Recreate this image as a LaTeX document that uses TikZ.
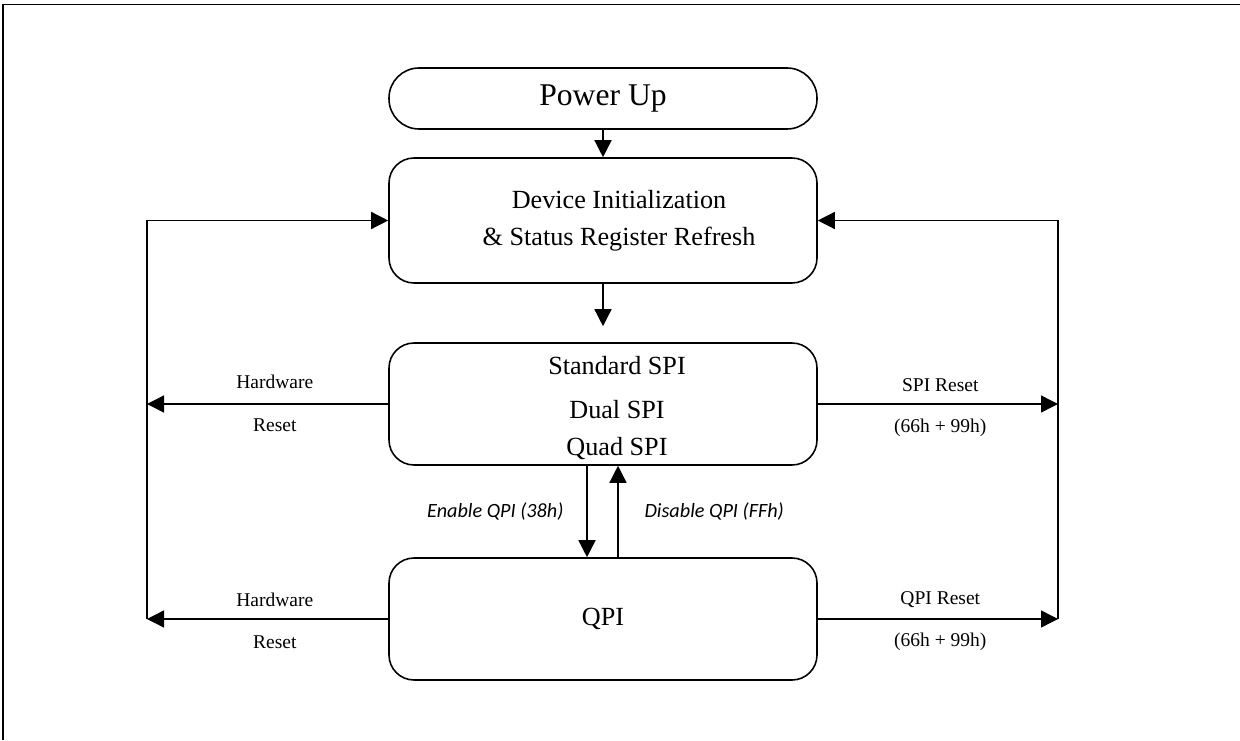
\documentclass[tikz,border=0pt]{standalone}
\usepackage{fontspec}
\setmainfont{Liberation Serif}
\newfontfamily\calfont{Carlito}
\usetikzlibrary{arrows.meta}

\begin{document}
\begin{tikzpicture}[
  box/.style={draw=linecolor,line width=0.9pt,rounded corners=0.5cm,minimum width=8.56cm,minimum height=2.44cm,inner sep=0pt},
  flow/.style={draw=linecolor,line width=0.8pt,-{Triangle[length=0.34cm,width=0.34cm]}},
  mainfont/.style={font=\fontsize{14.9}{21}\selectfont},
  lblfont/.style={font=\fontsize{11.1}{13}\selectfont},
  cmdfont/.style={font=\calfont\itshape\fontsize{11.5}{13}\selectfont}
]
\definecolor{linecolor}{RGB}{0,0,0}
\definecolor{framecolor}{RGB}{0,0,0}
\useasboundingbox (0,0) rectangle (24.8,14.8);
% page frame (top and left only)
\draw[framecolor,line width=1.1pt] (0.06,0) -- (0.06,14.71) -- (24.8,14.71);
% states
\node[box,rounded corners=0.6cm,minimum height=1.22cm,font=\fontsize{18}{20}\selectfont] (pwr) at (12.06,12.83) {Power Up};
\node[box,minimum height=2.5cm] (init) at (12.06,10.39) {};
\node[mainfont,align=center] (inittxt) at ([xshift=0.32cm]init.center) {Device Initialization\\ \& Status Register Refresh};
\node[box] (spi) at (12.06,6.72) {};
\node[mainfont,align=center] (spitxt) at ([xshift=0.28cm,yshift=-0.08cm]spi.center) {Standard SPI\\[4.5pt] Dual SPI\\ Quad SPI};
\node[box,mainfont] (qpi) at (12.06,2.42) {QPI};
% side rails
\coordinate (lft) at (2.94,0);
\coordinate (rgt) at (21.16,0);
\coordinate (spiin) at ([yshift=0.32cm]spi.north);
% transitions
\draw[flow] (pwr) -- (init);
\draw[flow] (init) -- (spiin);
\draw[flow] ([xshift=-0.32cm]spi.south) -- ([xshift=-0.32cm]qpi.north)
  node[cmdfont,midway,left=0.34cm] {Enable QPI (38h)};
\draw[flow] ([xshift=0.3cm]qpi.north) -- ([xshift=0.3cm]spi.south)
  node[cmdfont,midway,right=0.4cm] {Disable QPI (FFh)};
% hardware reset (left)
\draw[flow] (spi.west) -- (spi.west -| lft)
  node[lblfont,pos=0.47,yshift=0.44cm] {Hardware}
  node[lblfont,pos=0.47,yshift=-0.42cm] {Reset};
\draw[flow] (qpi.west) -- (qpi.west -| lft)
  node[lblfont,pos=0.47,yshift=0.38cm] {Hardware}
  node[lblfont,pos=0.47,yshift=-0.46cm] {Reset};
\draw[flow] (qpi.west -| lft) -- (init.west -| lft) -- (init.west);
% software reset (right)
\draw[flow] (spi.east) -- (spi.east -| rgt)
  node[lblfont,pos=0.51,yshift=0.38cm] {SPI Reset}
  node[lblfont,pos=0.51,yshift=-0.48cm] {(66h + 99h)};
\draw[flow] (qpi.east) -- (qpi.east -| rgt)
  node[lblfont,pos=0.51,yshift=0.38cm] {QPI Reset}
  node[lblfont,pos=0.51,yshift=-0.46cm] {(66h + 99h)};
\draw[flow] (qpi.east -| rgt) -- (init.east -| rgt) -- (init.east);
\end{tikzpicture}
\end{document}
